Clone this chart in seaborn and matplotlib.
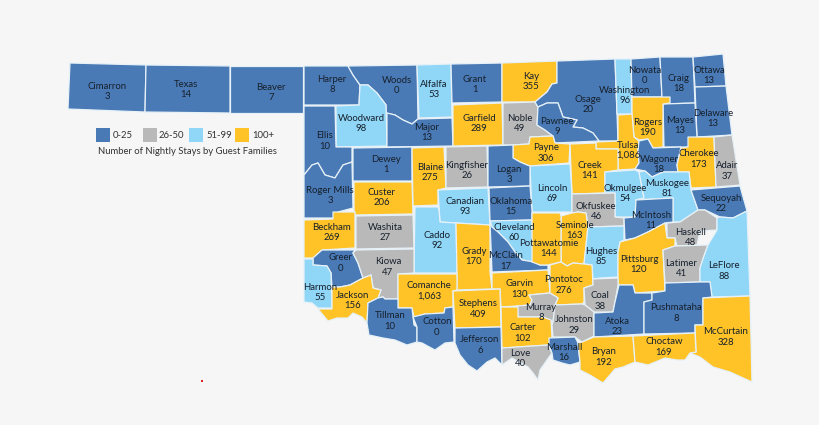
import numpy as np
import pandas as pd
import matplotlib.pyplot as plt
import seaborn as sns

# counties and nightly stays as printed on the map
counties = ['Cimarron', 'Texas', 'Beaver', 'Harper', 'Woods', 'Alfalfa', 'Grant', 'Kay', 'Woodward', 'Major',
            'Garfield', 'Noble', 'Osage', 'Washington', 'Nowata', 'Craig', 'Ottawa', 'Delaware', 'Mayes', 'Rogers',
            'Pawnee', 'Payne', 'Tulsa', 'Wagoner', 'Cherokee', 'Adair', 'Creek', 'Lincoln', 'Okmulgee', 'Muskogee',
            'Sequoyah', 'Ellis', 'Dewey', 'Blaine', 'Kingfisher', 'Logan', 'Roger Mills', 'Custer', 'Canadian', 'Oklahoma',
            'Okfuskee', 'McIntosh', 'Haskell', 'Seminole', 'Beckham', 'Washita', 'Caddo', 'Cleveland', 'Grady', 'McClain',
            'Pottawatomie', 'Hughes', 'Pittsburg', 'Latimer', 'LeFlore', 'Greer', 'Kiowa', 'Harmon', 'Jackson', 'Comanche',
            'Garvin', 'Stephens', 'Pontotoc', 'Coal', 'Murray', 'Tillman', 'Cotton', 'Johnston', 'Atoka', 'Pushmataha',
            'McCurtain', 'Carter', 'Jefferson', 'Love', 'Marshall', 'Bryan', 'Choctaw']
stays = [3, 14, 7, 8, 0, 53, 1, 355, 98, 13,
         289, 49, 20, 96, 0, 18, 13, 13, 13, 190,
         9, 306, 1086, 18, 173, 37, 141, 69, 54, 81,
         22, 10, 1, 275, 26, 3, 3, 206, 93, 15,
         46, 11, 48, 163, 269, 27, 92, 60, 170, 17,
         144, 85, 120, 41, 88, 0, 47, 55, 156, 1063,
         130, 409, 276, 38, 8, 10, 0, 29, 23, 8,
         328, 102, 6, 40, 16, 192, 169]
bin_labels = ['0-25', '26-50', '51-99', '100+']
bin_colors = ['#4a7ab5', '#b9b9b9', '#8fd6f7', '#ffc227']
caption = 'Number of Nightly Stays by Guest Families'

# county outlines
outlines = {
    'Cimarron': [(70,63),(146,65),(145,112),(68,109)],
    'Texas': [(146,65),(230,66),(230,113),(145,112)],
    'Beaver': [(230,66),(303,66),(303,113),(230,113)],
    'Harper': [(304,66),(348,66),(353,75),(360,85),(359,105),(304,105)],
    'Woods': [(348,66),(417,65),(418,119),(412,124),(403,120),(395,115),(386,113),(386,105),(377,93),(368,85),(360,85),(353,75)],
    'Alfalfa': [(417,65),(451,64),(452,117),(419,118)],
    'Grant': [(451,64),(502,63),(502,102),(452,103)],
    'Kay': [(502,63),(557,61),(557,83),(552,84),(547,92),(535,102),(502,102)],
    'Woodward': [(360,85),(368,85),(377,93),(386,105),(387,146),(336,147),(336,106),(359,105)],
    'Major': [(387,113),(395,115),(403,120),(412,124),(418,119),(452,118),(453,146),(387,147)],
    'Garfield': [(453,105),(502,103),(503,145),(453,146)],
    'Noble': [(503,103),(535,102),(538,107),(537,125),(545,130),(553,136),(530,137),(529,144),(513,145),(503,145)],
    'Osage': [(557,61),(615,59),(617,114),(618,141),(599,141),(593,133),(583,128),(573,127),(577,120),(563,117),(558,103),(547,103),(538,107),(535,102),(547,92),(552,84),(557,83)],
    'Washington': [(615,59),(631,59),(632,114),(617,114)],
    'Nowata': [(631,59),(660,57),(662,97),(632,97)],
    'Craig': [(660,57),(693,57),(695,103),(663,104),(662,97)],
    'Ottawa': [(693,57),(723,54),(726,86),(695,87)],
    'Delaware': [(695,87),(726,86),(732,135),(697,137)],
    'Mayes': [(663,104),(695,103),(697,137),(696,147),(664,147)],
    'Rogers': [(632,97),(670,97),(670,103),(663,104),(663,147),(653,148),(648,139),(639,140),(634,137),(632,114)],
    'Pawnee': [(538,107),(547,103),(558,103),(563,117),(577,120),(573,127),(583,128),(593,133),(599,141),(555,143),(553,136),(545,130),(537,125)],
    'Payne': [(530,137),(553,136),(555,143),(570,144),(569,163),(530,166),(527,165),(520,162),(513,158),(513,145),(529,144)],
    'Tulsa': [(618,115),(632,114),(634,137),(639,141),(638,150),(639,163),(635,169),(618,170),(618,149),(596,149),(596,142),(618,141)],
    'Wagoner': [(639,141),(648,139),(653,148),(681,147),(677,165),(678,172),(663,172),(652,177),(645,171),(635,169),(639,163),(638,150)],
    'Cherokee': [(688,137),(714,137),(716,187),(691,188),(689,172),(678,172),(677,165),(681,148),(688,147)],
    'Adair': [(714,137),(732,135),(740,185),(716,187)],
    'Creek': [(570,144),(596,143),(596,149),(618,149),(618,170),(605,172),(605,193),(572,194)],
    'Lincoln': [(530,166),(570,164),(572,194),(572,212),(532,212)],
    'Okmulgee': [(605,172),(635,170),(639,172),(644,198),(636,200),(635,217),(615,217),(615,193),(605,193)],
    'Muskogee': [(639,172),(645,171),(652,177),(663,172),(689,172),(691,190),(697,207),(698,210),(680,222),(673,222),(673,198),(636,200),(644,198)],
    'Sequoyah': [(691,190),(740,186),(747,211),(733,218),(720,217),(705,210),(698,210),(697,207)],
    'Ellis': [(304,106),(335,106),(336,147),(352,147),(352,162),(343,165),(335,178),(325,175),(318,163),(312,165),(304,175)],
    'Dewey': [(353,148),(412,147),(412,181),(353,181)],
    'Blaine': [(412,148),(444,147),(446,188),(438,190),(438,205),(413,206)],
    'Kingfisher': [(446,147),(487,146),(488,187),(446,188)],
    'Logan': [(488,146),(513,145),(513,158),(520,162),(527,165),(530,166),(530,186),(488,187)],
    'Roger Mills': [(304,175),(312,165),(318,163),(325,175),(335,178),(343,165),(352,162),(353,208),(338,212),(338,218),(304,218)],
    'Custer': [(354,182),(412,182),(413,214),(355,215),(354,210)],
    'Canadian': [(438,190),(488,188),(490,225),(456,223),(440,222),(439,206)],
    'Oklahoma': [(489,188),(530,186),(532,210),(532,220),(490,221)],
    'Okfuskee': [(572,194),(615,193),(615,217),(624,218),(624,226),(588,227),(586,213),(578,212),(572,213)],
    'McIntosh': [(636,200),(673,198),(673,222),(665,223),(648,232),(635,238),(625,240),(624,218),(635,217)],
    'Haskell': [(667,223),(680,222),(698,210),(705,210),(717,218),(717,230),(700,231),(697,245),(677,246),(675,238),(667,238)],
    'Seminole': [(561,216),(572,213),(578,212),(586,213),(588,227),(584,264),(573,263),(567,266),(561,262)],
    'Beckham': [(304,220),(333,219),(333,212),(355,212),(355,248),(322,250),(313,258),(304,258)],
    'Washita': [(356,216),(413,215),(414,248),(356,249)],
    'Caddo': [(415,207),(438,207),(439,210),(440,222),(456,223),(457,273),(414,273)],
    'Cleveland': [(490,221),(532,220),(534,262),(522,260),(515,252),(508,242),(498,232),(492,227)],
    'Grady': [(456,223),(490,225),(490,272),(492,289),(457,290),(457,273)],
    'McClain': [(490,221),(492,227),(498,232),(508,242),(515,252),(522,260),(534,262),(540,265),(548,265),(548,270),(492,272)],
    'Pottawatomie': [(532,213),(560,213),(561,216),(561,262),(548,265),(540,265),(532,262)],
    'Hughes': [(588,227),(624,226),(624,240),(620,242),(618,253),(618,277),(600,278),(593,279),(592,265),(584,264)],
    'Pittsburg': [(620,242),(635,238),(648,232),(665,223),(667,238),(675,238),(675,246),(663,250),(665,291),(635,293),(633,285),(618,285),(618,253)],
    'Latimer': [(663,250),(675,246),(708,245),(704,256),(700,268),(700,282),(665,283)],
    'LeFlore': [(717,218),(720,217),(733,218),(747,211),(750,296),(712,297),(710,282),(700,282),(700,268),(704,256),(708,245),(717,230)],
    'Greer': [(322,250),(355,250),(353,253),(358,263),(363,278),(350,285),(340,287),(332,287),(331,273),(327,266),(313,265),(313,258)],
    'Kiowa': [(356,250),(414,249),(414,273),(398,274),(398,299),(385,299),(383,297),(378,298),(381,290),(373,288),(371,275),(363,278),(358,263),(353,253)],
    'Harmon': [(304,259),(313,259),(313,265),(327,266),(331,273),(332,308),(318,308),(312,303),(304,302)],
    'Jackson': [(332,287),(340,287),(350,285),(363,278),(371,275),(373,288),(381,290),(378,298),(368,303),(367,323),(362,317),(353,313),(348,318),(337,318),(328,321),(318,309),(332,309)],
    'Comanche': [(398,274),(457,274),(457,290),(453,291),(453,307),(445,308),(444,313),(425,314),(414,317),(412,308),(398,308)],
    'Garvin': [(492,273),(548,270),(550,293),(529,295),(532,300),(530,305),(517,306),(501,307),(500,289),(492,289)],
    'Stephens': [(453,291),(500,289),(501,327),(455,328)],
    'Pontotoc': [(550,265),(561,262),(567,266),(573,263),(584,264),(592,265),(593,285),(584,288),(584,302),(582,304),(555,305),(558,298),(550,293)],
    'Coal': [(593,279),(618,278),(618,285),(615,302),(613,312),(594,312),(585,305),(584,288),(593,285)],
    'Murray': [(529,295),(550,293),(558,298),(555,305),(553,322),(543,317),(518,317),(517,306),(530,305),(532,300)],
    'Tillman': [(378,298),(383,297),(385,299),(398,299),(398,308),(412,308),(414,325),(417,327),(417,342),(407,345),(395,340),(383,338),(369,335),(367,323),(368,303)],
    'Cotton': [(413,317),(425,314),(444,313),(445,308),(453,307),(454,342),(445,343),(435,350),(422,343),(417,342),(417,327)],
    'Johnston': [(555,305),(582,304),(585,305),(594,312),(594,336),(582,342),(575,337),(553,337),(552,325),(553,322)],
    'Atoka': [(594,313),(613,312),(615,302),(619,285),(633,285),(635,293),(652,293),(652,300),(644,302),(644,334),(594,337)],
    'Pushmataha': [(652,293),(665,291),(665,283),(700,282),(710,282),(712,297),(703,298),(703,325),(695,325),(695,333),(644,334),(644,302),(652,300)],
    'McCurtain': [(703,298),(750,296),(752,382),(730,372),(713,367),(700,357),(690,353),(696,352),(695,325),(703,325)],
    'Carter': [(501,307),(518,307),(518,317),(543,317),(551,320),(552,337),(549,345),(502,348)],
    'Jefferson': [(455,328),(501,327),(502,365),(495,358),(487,362),(477,371),(468,365),(460,355),(455,343)],
    'Love': [(502,348),(548,345),(552,353),(547,360),(540,370),(538,380),(533,373),(528,367),(512,358),(502,365)],
    'Marshall': [(549,338),(575,337),(578,343),(580,362),(570,365),(562,363),(553,360),(552,353),(549,345)],
    'Bryan': [(582,342),(594,337),(633,336),(635,362),(623,367),(615,369),(603,383),(590,375),(580,370),(580,362),(578,343)],
    'Choctaw': [(633,336),(695,333),(696,352),(690,353),(685,360),(677,360),(665,358),(648,365),(635,362)],
}

# where each county name sits
name_x = [107, 186, 271, 332, 397, 434, 475, 531, 361, 427,
          479, 520, 588, 625, 645, 679, 709, 713, 680, 648,
          557, 546, 628, 659, 699, 727, 590, 552, 625, 667,
          721, 325, 386, 430, 467, 509, 330, 382, 465, 511,
          596, 651, 691, 575, 332, 385, 437, 514, 474, 506,
          549, 601, 639, 681, 724, 341, 388, 320, 353, 429,
          520, 478, 564, 600, 541, 390, 437, 574, 617, 676,
          726, 523, 480, 520, 564, 604, 664]
name_y = [86, 84, 87, 79, 80, 84, 79, 76, 118, 127,
          118, 118, 99, 90, 70, 78, 70, 113, 120, 122,
          121, 148, 145, 159, 154, 166, 165, 188, 188, 183,
          198, 136, 159, 167, 165, 169, 190, 192, 201, 201,
          206, 215, 232, 225, 227, 227, 235, 227, 251, 256,
          243, 251, 259, 263, 266, 258, 262, 287, 295, 286,
          284, 304, 280, 296, 307, 316, 322, 320, 321, 308,
          332, 328, 340, 353, 347, 352, 342]


def main():
    sns.set_theme(style='white')
    plt.rcParams['font.family'] = ['Lato', 'DejaVu Sans']

    df = pd.DataFrame({'county': counties, 'stays': stays, 'x': name_x, 'y': name_y})
    df['group'] = pd.cut(df['stays'], [-1, 25, 50, 99, np.inf], labels=bin_labels).astype(str)
    df.loc[df['county'] == 'Murray', 'group'] = '26-50'  # shaded gray on the map
    palette = dict(zip(bin_labels, sns.color_palette(bin_colors)))

    fig, ax = plt.subplots(figsize=(8.2, 4.25), dpi=100)
    fig.patch.set_facecolor('#f6f6f6')
    ax.set_position([0, 0, 1, 1])
    ax.set_xlim(0, 820)
    ax.set_ylim(425, 0)
    ax.axis('off')

    for row in df.itertuples():
        xs, ys = zip(*outlines[row.county])
        ax.fill(xs, ys, facecolor=palette[row.group], edgecolor='#e6f1f8', linewidth=0.9, joinstyle='round')

    # legend squares
    swatches = pd.DataFrame({'x': [103, 150, 196, 242], 'y': [135] * 4, 'group': bin_labels})
    sns.scatterplot(data=swatches, x='x', y='y', hue='group', palette=palette, marker='s', s=95,
                    linewidth=0, legend=False, ax=ax, clip_on=False)
    for lx, label in zip([113, 159, 206, 252], bin_labels):
        ax.text(lx, 135.5, label, fontsize=6.8, color='#333333', va='center')
    ax.text(187, 152, caption, fontsize=6.8, color='#333333', ha='center', va='center')

    # county labels
    for row in df.itertuples():
        ax.text(row.x, row.y, row.county, fontsize=6.9, color='#16202c', ha='center', va='center')
        ax.text(row.x, row.y + 10.5, f'{row.stays:,}', fontsize=6.9, color='#16202c', ha='center', va='center')

    ax.plot([202], [381], marker='s', ms=1.5, color='#e02020', mew=0)
    ax.set_xlabel('')
    ax.set_ylabel('')
    fig.savefig('out.png', dpi=100, facecolor=fig.get_facecolor())


if __name__ == '__main__':
    main()
